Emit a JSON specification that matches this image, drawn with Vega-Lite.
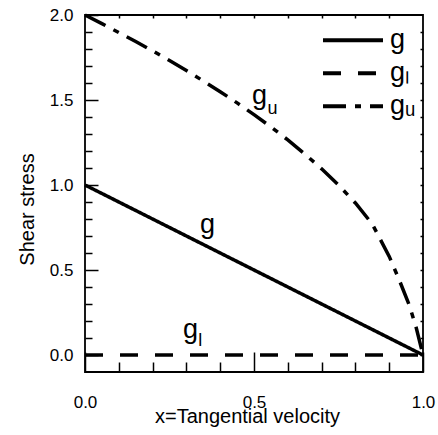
{
  "$schema": "https://vega.github.io/schema/vega-lite/v6.json",
  "width": 338,
  "height": 357,
  "autosize": {"type": "none"},
  "padding": {"left": 85, "top": 15, "right": 15, "bottom": 63},
  "background": "white",
  "config": {
    "font": "Liberation Sans",
    "view": {"stroke": "black", "strokeWidth": 1.8},
    "axis": {"domain": false, "grid": false, "tickColor": "black", "tickWidth": 1.5, "labelColor": "black", "titleColor": "black", "labelFont": "Liberation Sans", "titleFont": "Liberation Sans", "titleFontWeight": "normal", "labelFontSize": 17, "titleFontSize": 20, "labelFlush": false, "labelOverlap": false}
  },
  "datasets": {
    "lines": [
      {"series": "g", "x": 0, "y": 1},
      {"series": "g", "x": 1, "y": 0},
      {"series": "gₗ", "x": 0, "y": 0},
      {"series": "gₗ", "x": 1, "y": 0},
      {"series": "gᵤ", "x": 0, "y": 2.0},
      {"series": "gᵤ", "x": 0.05, "y": 1.949},
      {"series": "gᵤ", "x": 0.1, "y": 1.897},
      {"series": "gᵤ", "x": 0.15, "y": 1.844},
      {"series": "gᵤ", "x": 0.2, "y": 1.789},
      {"series": "gᵤ", "x": 0.25, "y": 1.732},
      {"series": "gᵤ", "x": 0.3, "y": 1.673},
      {"series": "gᵤ", "x": 0.35, "y": 1.612},
      {"series": "gᵤ", "x": 0.4, "y": 1.549},
      {"series": "gᵤ", "x": 0.45, "y": 1.483},
      {"series": "gᵤ", "x": 0.5, "y": 1.414},
      {"series": "gᵤ", "x": 0.55, "y": 1.342},
      {"series": "gᵤ", "x": 0.6, "y": 1.265},
      {"series": "gᵤ", "x": 0.65, "y": 1.183},
      {"series": "gᵤ", "x": 0.7, "y": 1.095},
      {"series": "gᵤ", "x": 0.75, "y": 1.0},
      {"series": "gᵤ", "x": 0.8, "y": 0.894},
      {"series": "gᵤ", "x": 0.85, "y": 0.77},
      {"series": "gᵤ", "x": 0.9, "y": 0.58},
      {"series": "gᵤ", "x": 0.93, "y": 0.44},
      {"series": "gᵤ", "x": 0.96, "y": 0.29},
      {"series": "gᵤ", "x": 0.98, "y": 0.16},
      {"series": "gᵤ", "x": 1, "y": 0}
    ],
    "mainLabels": [
      {"t": "g", "x": 0.34, "y": 0.718},
      {"t": "g", "x": 0.494, "y": 1.476},
      {"t": "g", "x": 0.29, "y": 0.1}
    ],
    "subLabels": [
      {"t": "u", "x": 0.54, "y": 1.418},
      {"t": "l", "x": 0.335, "y": 0.053}
    ]
  },
  "layer": [
    {
      "data": {"name": "lines"},
      "mark": {"type": "line", "color": "black", "strokeWidth": 3.5, "strokeCap": "butt"},
      "encoding": {
        "x": {"field": "x", "type": "quantitative",
          "scale": {"domain": [0, 1], "nice": false, "zero": false},
          "axis": {"orient": "bottom", "title": "x=Tangential velocity", "values": [0, 0.5, 1.0],
            "offset": -20, "tickSize": 20, "format": ".1f",
            "labelPadding": 22, "labelBaseline": "top",
            "titleX": 162, "titleY": 70, "titleBaseline": "alphabetic", "titleAlign": "center"}},
        "y": {"field": "y", "type": "quantitative",
          "scale": {"domain": [-0.1, 2.0], "nice": false, "zero": false},
          "axis": {"orient": "left", "title": "Shear stress", "values": [0, 0.5, 1.0, 1.5, 2.0],
            "offset": -13, "tickSize": 13, "format": ".1f",
            "labelPadding": 12,
            "titleX": -65, "titleY": 194, "titleBaseline": "alphabetic", "titleAlign": "center", "titleAngle": 270}},
        "strokeDash": {"field": "series", "type": "nominal",
          "scale": {"domain": ["g", "gₗ", "gᵤ"], "range": [[1, 0], [18, 17], [23, 9, 6, 9]]},
          "legend": {"orient": "none", "legendX": 236, "legendY": 9, "title": null, "padding": 0,
            "symbolType": "stroke", "symbolSize": 3600, "symbolStrokeWidth": 4, "symbolStrokeColor": "black",
            "labelFontSize": 27, "labelFont": "Liberation Sans", "labelColor": "black", "labelOffset": 5,
            "clipHeight": 32.5, "rowPadding": 0, "labelBaseline": "middle"}},
        "detail": {"field": "series"}
      }
    },
    {
      "data": {"name": "mainLabels"},
      "mark": {"type": "text", "fontSize": 27, "align": "left", "baseline": "alphabetic", "color": "black", "font": "Liberation Sans"},
      "encoding": {
        "x": {"field": "x", "type": "quantitative", "scale": {"domain": [0, 1], "nice": false, "zero": false},
          "axis": {"orient": "bottom", "title": null, "labels": false, "offset": -10, "tickSize": 10, "values": [0.1,0.2,0.3,0.4,0.6,0.7,0.8,0.9]}},
        "y": {"field": "y", "type": "quantitative", "scale": {"domain": [-0.1, 2.0], "nice": false, "zero": false},
          "axis": {"orient": "left", "title": null, "labels": false, "offset": -7, "tickSize": 7, "values": [0.1,0.2,0.3,0.4,0.6,0.7,0.8,0.9,1.1,1.2,1.3,1.4,1.6,1.7,1.8,1.9]}},
        "text": {"field": "t"}
      }
    },
    {
      "data": {"name": "subLabels"},
      "mark": {"type": "text", "fontSize": 18, "align": "left", "baseline": "alphabetic", "color": "black", "font": "Liberation Sans"},
      "encoding": {
        "x": {"field": "x", "type": "quantitative", "scale": {"domain": [0, 1], "nice": false, "zero": false},
          "axis": {"orient": "top", "title": null, "labels": false, "offset": -3, "tickSize": 3, "values": [0.1,0.2,0.3,0.4,0.5,0.6,0.7,0.8,0.9]}},
        "y": {"field": "y", "type": "quantitative", "scale": {"domain": [-0.1, 2.0], "nice": false, "zero": false},
          "axis": {"orient": "right", "title": null, "labels": false, "offset": -3, "tickSize": 3, "values": [0,0.1,0.2,0.3,0.4,0.5,0.6,0.7,0.8,0.9,1.0,1.1,1.2,1.3,1.4,1.5,1.6,1.7,1.8,1.9]}},
        "text": {"field": "t"}
      }
    }
  ],
  "resolve": {"axis": {"x": "independent", "y": "independent"}}
}
